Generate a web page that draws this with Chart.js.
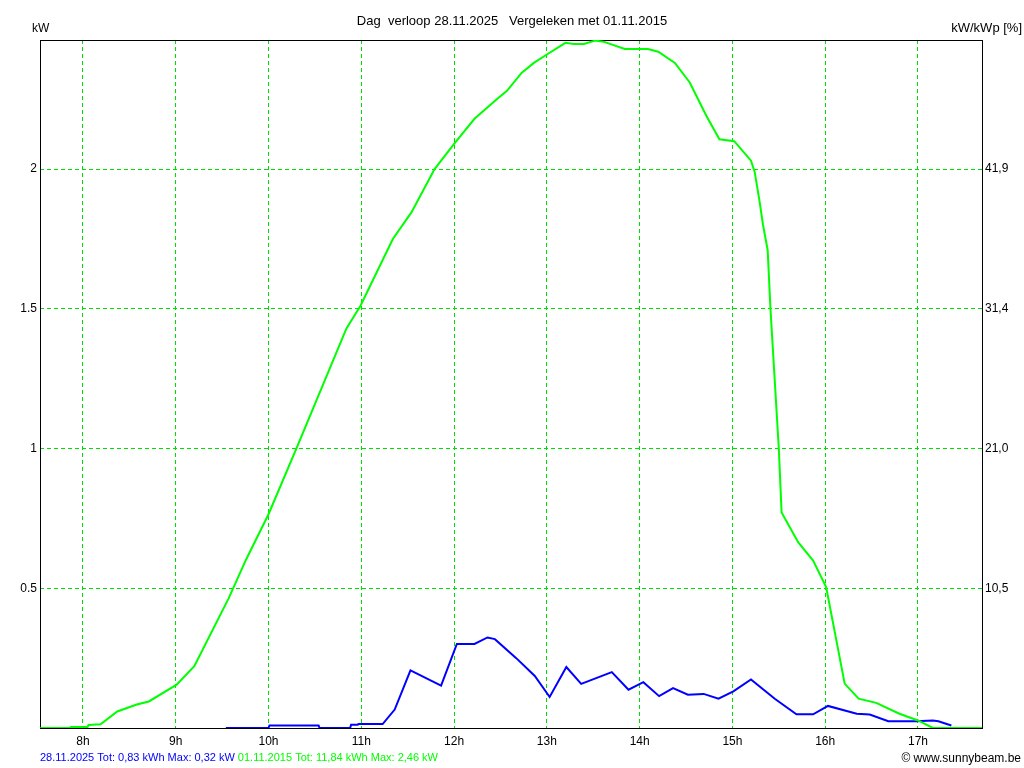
<!DOCTYPE html>
<html>
<head>
<meta charset="utf-8">
<title>Dag verloop</title>
<script src="https://cdn.jsdelivr.net/npm/chart.js@4/dist/chart.umd.min.js"></script>
<style>
  html, body { margin: 0; padding: 0; background: #fff; overflow: hidden; }
  #dayChart { display: block; }
</style>
</head>
<body>
<canvas id="dayChart" width="1024" height="768"></canvas>
<script>
// tijd in uren (decimaal), vermogen in kW
const compareTimes = [7.54, 7.86, 7.87, 8.05, 8.06, 8.19, 8.37, 8.58, 8.71, 9.01, 9.2, 9.57, 9.76, 10.0, 10.3, 10.84, 10.99, 11.34, 11.54, 11.79, 12.0, 12.22, 12.46, 12.57, 12.73, 12.86, 13.0, 13.2, 13.29, 13.4, 13.52, 13.61, 13.84, 14.09, 14.2, 14.38, 14.54, 14.72, 14.86, 15.02, 15.2, 15.24, 15.29, 15.33, 15.38, 15.41, 15.5, 15.53, 15.71, 15.87, 16.01, 16.21, 16.36, 16.55, 16.8, 17.0, 17.16, 17.69];
const compareKw    = [0, 0, 0.004, 0.004, 0.011, 0.013, 0.059, 0.084, 0.095, 0.155, 0.221, 0.464, 0.604, 0.765, 1.0, 1.43, 1.51, 1.75, 1.845, 2.0, 2.09, 2.18, 2.25, 2.28, 2.345, 2.38, 2.41, 2.452, 2.448, 2.448, 2.46, 2.456, 2.43, 2.43, 2.42, 2.38, 2.31, 2.19, 2.107, 2.1, 2.03, 1.99, 1.89, 1.8, 1.71, 1.5, 1.0, 0.771, 0.664, 0.599, 0.504, 0.159, 0.105, 0.09, 0.051, 0.027, 0, 0];

const todayTimes = [9.54, 10.0, 10.01, 10.54, 10.55, 10.88, 10.89, 10.96, 10.97, 11.23, 11.36, 11.53, 11.86, 12.03, 12.22, 12.36, 12.44, 12.67, 12.87, 13.03, 13.21, 13.37, 13.7, 13.88, 14.04, 14.21, 14.36, 14.52, 14.69, 14.85, 15.01, 15.2, 15.46, 15.69, 15.87, 16.03, 16.34, 16.48, 16.68, 16.98, 17.16, 17.22, 17.36];
const todayKw    = [0, 0, 0.009, 0.009, 0, 0, 0.012, 0.012, 0.014, 0.014, 0.066, 0.206, 0.152, 0.301, 0.301, 0.324, 0.318, 0.25, 0.186, 0.111, 0.218, 0.158, 0.2, 0.137, 0.164, 0.114, 0.143, 0.119, 0.122, 0.105, 0.131, 0.174, 0.104, 0.049, 0.049, 0.079, 0.051, 0.048, 0.024, 0.024, 0.027, 0.024, 0.009];

const hourTicks = [8, 9, 10, 11, 12, 13, 14, 15, 16, 17];
const kwTicks = [0.5, 1, 1.5, 2];
const kwTickLabels = ['0.5', '1', '1.5', '2'];
const pctTickLabels = ['10,5', '21,0', '31,4', '41,9'];

const titleText = 'Dag  verloop 28.11.2025   Vergeleken met 01.11.2015';
const todayLegend = '28.11.2025 Tot: 0,83 kWh Max: 0,32 kW';
const compareLegend = '01.11.2015 Tot: 11,84 kWh Max: 2,46 kW';

const FAMILY = '"Liberation Sans", Arial, sans-serif';
const GRID_GREEN = '#00e000';

function toPoints(xs, ys) {
  return xs.map((x, i) => ({ x: x, y: ys[i] }));
}

// randen, titel en onderschrift
const decorPlugin = {
  id: 'decor',
  beforeDatasetsDraw(chart) {
    const { ctx, chartArea: a } = chart;
    ctx.save();
    ctx.strokeStyle = '#000';
    ctx.lineWidth = 1;
    ctx.strokeRect(a.left + 0.5, a.top + 0.5, a.right - a.left, a.bottom - a.top);
    ctx.restore();
  },
  afterDraw(chart) {
    const { ctx } = chart;
    ctx.save();
    ctx.textBaseline = 'alphabetic';
    ctx.fillStyle = '#000';
    ctx.font = '13px ' + FAMILY;
    ctx.textAlign = 'center';
    ctx.fillText(titleText, 512, 25);
    ctx.textAlign = 'right';
    ctx.fillText('kW/kWp [%]', 1022, 32);
    ctx.font = '12px ' + FAMILY;
    ctx.textAlign = 'left';
    ctx.fillText('kW', 32, 32);
    ctx.textAlign = 'right';
    ctx.fillText('\u00A9 www.sunnybeam.be', 1021, 762);

    ctx.font = '11px ' + FAMILY;
    ctx.textAlign = 'left';
    ctx.fillStyle = '#0000ff';
    ctx.fillText(todayLegend, 40, 761);
    const w = ctx.measureText(todayLegend).width;
    ctx.fillStyle = '#00ff00';
    ctx.fillText(compareLegend, 40 + w + 3, 761);
    ctx.restore();
  }
};

new Chart(document.getElementById('dayChart'), {
  type: 'line',
  data: {
    datasets: [
      {
        label: '01.11.2015',
        data: toPoints(compareTimes, compareKw),
        borderColor: '#00ff00',
        borderWidth: 2,
        pointRadius: 0,
        tension: 0,
        fill: false
      },
      {
        label: '28.11.2025',
        data: toPoints(todayTimes, todayKw),
        borderColor: '#0000ff',
        borderWidth: 2,
        pointRadius: 0,
        tension: 0,
        fill: false
      }
    ]
  },
  options: {
    responsive: false,
    animation: false,
    devicePixelRatio: 1,
    layout: { padding: { top: 40, left: 0, right: 0, bottom: 0 } },
    plugins: {
      legend: { display: false },
      tooltip: { enabled: false }
    },
    scales: {
      x: {
        type: 'linear',
        min: 7.537,
        max: 17.69,
        afterBuildTicks: s => { s.ticks = hourTicks.map(v => ({ value: v })); },
        afterFit: s => { s.height = 40; },
        ticks: {
          color: '#000',
          font: { family: FAMILY, size: 12 },
          padding: 6,
          maxRotation: 0,
          autoSkip: false,
          callback: v => v + 'h'
        },
        grid: { color: GRID_GREEN, drawTicks: false, lineWidth: 1 },
        border: { display: false, dash: [4, 3] }
      },
      y: {
        position: 'left',
        min: 0,
        max: 2.462,
        afterBuildTicks: s => { s.ticks = kwTicks.map(v => ({ value: v })); },
        afterFit: s => { s.width = 40; },
        ticks: {
          color: '#000',
          font: { family: FAMILY, size: 12 },
          padding: 3,
          callback: v => kwTickLabels[kwTicks.indexOf(v)]
        },
        grid: { color: GRID_GREEN, drawTicks: false, lineWidth: 1 },
        border: { display: false, dash: [4, 3] }
      },
      y2: {
        position: 'right',
        min: 0,
        max: 2.462,
        afterBuildTicks: s => { s.ticks = kwTicks.map(v => ({ value: v })); },
        afterFit: s => { s.width = 42; },
        ticks: {
          color: '#000',
          font: { family: FAMILY, size: 12 },
          padding: 3,
          callback: v => pctTickLabels[kwTicks.indexOf(v)]
        },
        grid: { display: false, drawTicks: false },
        border: { display: false }
      }
    }
  },
  plugins: [decorPlugin]
});
</script>
</body>
</html>
